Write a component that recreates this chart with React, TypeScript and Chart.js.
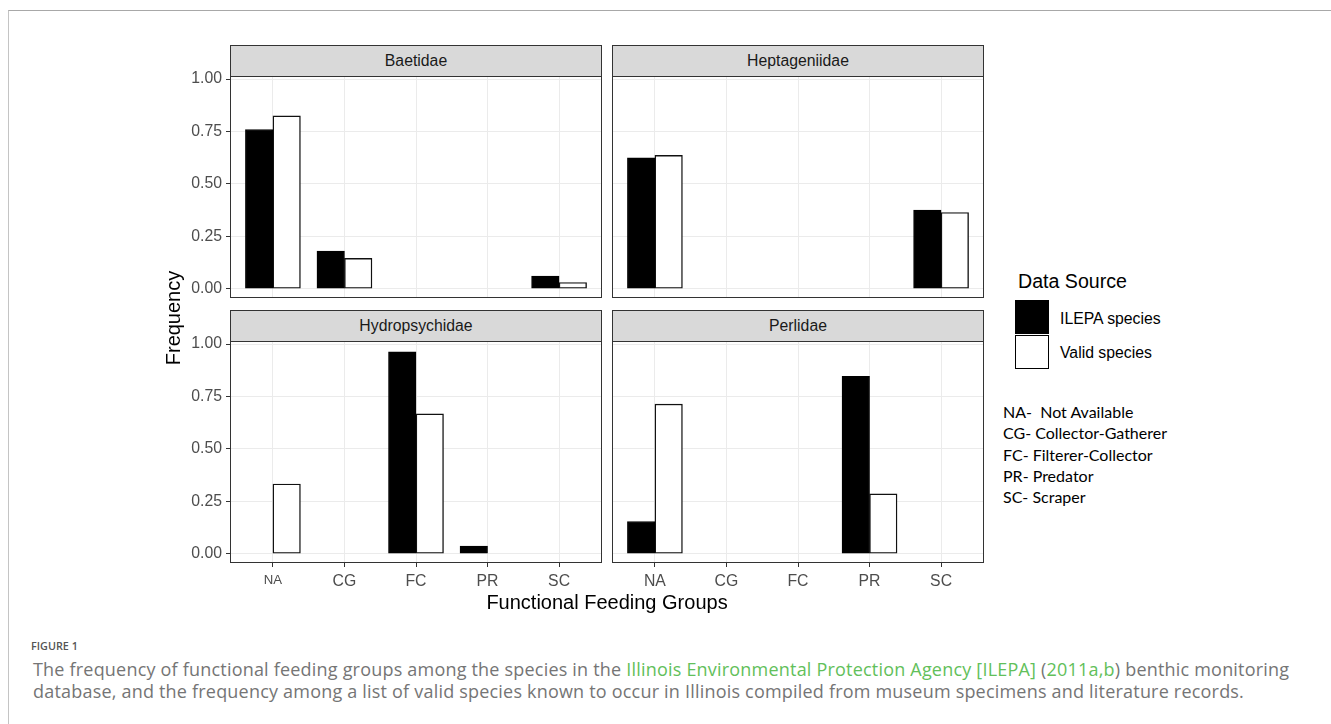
import React, { useEffect, useRef } from 'react';
import { Chart, registerables } from 'chart.js';

Chart.register(...registerables);

// ---------- data ----------
const categories = ['NA', 'CG', 'FC', 'PR', 'SC'];
const categoryPositions = [1, 2, 3, 4, 5];
const yTickValues = [0, 0.25, 0.5, 0.75, 1];
const seriesNames = ['ILEPA species', 'Valid species'];

const baetidaeIlepa = [0.76, 0.18, null, null, 0.06];
const baetidaeValid = [0.825, 0.145, null, null, 0.03];
const heptageniidaeIlepa = [0.625, null, null, null, 0.375];
const heptageniidaeValid = [0.636, null, null, null, 0.364];
const hydropsychidaeIlepa = [null, null, 0.963, 0.037, null];
const hydropsychidaeValid = [0.333, null, 0.667, null, null];
const perlidaeIlepa = [0.154, null, null, 0.846, null];
const perlidaeValid = [0.714, null, null, 0.286, null];

const legendNotes = [
  'NA-  Not Available',
  'CG- Collector-Gatherer',
  'FC- Filterer-Collector',
  'PR- Predator',
  'SC- Scraper',
];

// ---------- layout / style ----------
const FONT = '"Liberation Sans", Arial, Helvetica, sans-serif';
const TICK_SIZE = 15.8;
const COL_LEFT = [230, 612];
const ROW_STRIP_TOP = [45, 310];
const PANEL_W = 372;
const STRIP_H = 31;
const PLOT_H = 222;
const Y_MIN = -0.044;
const Y_MAX = 1.015;

const panelBorder = {
  id: 'panelBorder',
  afterDatasetsDraw(chart: any) {
    const { ctx, chartArea: a } = chart;
    ctx.save();
    ctx.strokeStyle = '#333333';
    ctx.lineWidth = 1;
    ctx.strokeRect(a.left + 0.5, a.top + 0.5, a.right - a.left - 1, a.bottom - a.top - 1);
    ctx.restore();
  },
};

type PanelProps = {
  title: string;
  ilepa: (number | null)[];
  valid: (number | null)[];
  col: number;
  row: number;
};

function Panel({ title, ilepa, valid, col, row }: PanelProps) {
  const ref = useRef<HTMLCanvasElement>(null);
  const left = COL_LEFT[col];
  const stripTop = ROW_STRIP_TOP[row];
  const plotTop = stripTop + STRIP_H;
  const yAxisW = col === 0 ? 70 : 0;
  const xAxisH = row === 1 ? 30 : 0;
  const padTop = 16;
  const padBottom = row === 1 ? 2 : 16;
  const padRight = 2;
  const cw = yAxisW + PANEL_W + padRight;
  const ch = padTop + PLOT_H + xAxisH + padBottom;

  useEffect(() => {
    if (!ref.current) return;
    const chart = new Chart(ref.current, {
      type: 'bar',
      data: {
        datasets: [
          {
            label: seriesNames[0],
            data: categoryPositions.map((x, i) => ({ x, y: ilepa[i] })) as any,
            backgroundColor: '#000000',
            borderColor: '#000000',
            borderWidth: 1,
            borderSkipped: false,
          },
          {
            label: seriesNames[1],
            data: categoryPositions.map((x, i) => ({ x, y: valid[i] })) as any,
            backgroundColor: '#ffffff',
            borderColor: '#111111',
            borderWidth: 1.4,
            borderSkipped: false,
          },
        ],
      },
      options: {
        responsive: false,
        animation: false,
        devicePixelRatio: 1,
        layout: { padding: { top: padTop, bottom: padBottom, left: 0, right: padRight } },
        plugins: { legend: { display: false }, tooltip: { enabled: false } },
        datasets: { bar: { barThickness: 27.5, grouped: true } as any },
        scales: {
          x: {
            type: 'linear',
            offset: false,
            min: 0.4,
            max: 5.6,
            afterBuildTicks: (s: any) => {
              s.ticks = categoryPositions.map((v) => ({ value: v }));
            },
            afterFit: (s: any) => {
              s.height = xAxisH;
            },
            border: { display: false },
            grid: {
              offset: false,
              color: '#ebebeb',
              lineWidth: 1,
              drawTicks: row === 1,
              tickLength: 4,
              tickColor: '#333333',
              tickWidth: 1,
            },
            ticks: {
              display: row === 1,
              padding: 5,
              color: '#4d4d4d',
              autoSkip: false,
              maxRotation: 0,
              font: (ctx: any) => ({
                family: FONT,
                size: col === 0 && ctx.index === 0 ? 13.2 : TICK_SIZE,
              }),
              callback: (v: any) => categories[Math.round(Number(v)) - 1] ?? '',
            },
          },
          y: {
            type: 'linear',
            min: Y_MIN,
            max: Y_MAX,
            afterBuildTicks: (s: any) => {
              s.ticks = yTickValues.map((v) => ({ value: v }));
            },
            afterFit: (s: any) => {
              s.width = yAxisW;
            },
            border: { display: false },
            grid: {
              color: '#ebebeb',
              lineWidth: 1,
              drawTicks: col === 0,
              tickLength: 4,
              tickColor: '#333333',
              tickWidth: 1,
            },
            ticks: {
              display: col === 0,
              padding: 4,
              color: '#4d4d4d',
              font: { family: FONT, size: TICK_SIZE },
              callback: (v: any) => Number(v).toFixed(2),
            },
          },
        },
      } as any,
      plugins: [panelBorder],
    });
    return () => chart.destroy();
  }, []);

  return (
    <>
      <div
        style={{
          position: 'absolute',
          left,
          top: stripTop,
          width: PANEL_W,
          height: STRIP_H + 1,
          boxSizing: 'border-box',
          border: '1px solid #333333',
          background: '#d9d9d9',
          color: '#1a1a1a',
          font: `${TICK_SIZE}px ${FONT}`,
          display: 'flex',
          alignItems: 'center',
          justifyContent: 'center',
        }}
      >
        {title}
      </div>
      <canvas
        ref={ref}
        width={cw}
        height={ch}
        style={{ position: 'absolute', left: left - yAxisW, top: plotTop - padTop, width: cw, height: ch }}
      />
    </>
  );
}

const abs = (s: React.CSSProperties): React.CSSProperties => ({ position: 'absolute', ...s });

export default function App() {
  const green = '#62c05a';
  return (
    <div style={abs({ left: 0, top: 0, width: 1331, height: 724, background: '#ffffff', overflow: 'hidden' })}>
      {/* figure frame */}
      <div
        style={abs({
          left: 8,
          top: 10,
          width: 1400,
          height: 800,
          borderTop: '1px solid #a8a8a8',
          borderLeft: '1px solid #c4c4c4',
        })}
      />

      <Panel title="Baetidae" ilepa={baetidaeIlepa} valid={baetidaeValid} col={0} row={0} />
      <Panel title="Heptageniidae" ilepa={heptageniidaeIlepa} valid={heptageniidaeValid} col={1} row={0} />
      <Panel title="Hydropsychidae" ilepa={hydropsychidaeIlepa} valid={hydropsychidaeValid} col={0} row={1} />
      <Panel title="Perlidae" ilepa={perlidaeIlepa} valid={perlidaeValid} col={1} row={1} />

      {/* axis titles */}
      <div
        style={abs({
          left: 172 - 100,
          top: 318 - 10,
          width: 200,
          height: 20,
          lineHeight: '20px',
          textAlign: 'center',
          font: `20px ${FONT}`,
          color: '#000',
          transform: 'rotate(-90deg)',
        })}
      >
        Frequency
      </div>
      <div
        style={abs({
          left: 607 - 200,
          top: 591,
          width: 400,
          height: 20,
          lineHeight: '20px',
          textAlign: 'center',
          font: `20px ${FONT}`,
          color: '#000',
        })}
      >
        Functional Feeding Groups
      </div>

      {/* legend */}
      <div style={abs({ left: 1018, top: 270, font: `19.6px ${FONT}`, lineHeight: '22px', color: '#000', whiteSpace: 'nowrap' })}>
        Data Source
      </div>
      <div style={abs({ left: 1015, top: 300, width: 34, height: 34, background: '#000' })} />
      <div
        style={abs({
          left: 1015,
          top: 335,
          width: 34,
          height: 34,
          boxSizing: 'border-box',
          border: '1.5px solid #000',
          background: '#fff',
        })}
      />
      <div style={abs({ left: 1060, top: 309, font: `${TICK_SIZE}px ${FONT}`, lineHeight: '20px', whiteSpace: 'nowrap' })}>
        {seriesNames[0]}
      </div>
      <div style={abs({ left: 1060, top: 343, font: `${TICK_SIZE}px ${FONT}`, lineHeight: '20px', whiteSpace: 'nowrap' })}>
        {seriesNames[1]}
      </div>

      {/* notes */}
      {legendNotes.map((t, i) => (
        <div
          key={t}
          style={abs({
            left: 1003,
            top: 402 + i * 21.25,
            font: '16px Lato, "Open Sans", sans-serif',
            lineHeight: '20px',
            color: '#000',
            whiteSpace: 'pre',
          })}
        >
          {t}
        </div>
      ))}

      {/* caption */}
      <div
        style={abs({
          left: 31,
          top: 638,
          font: '600 10.8px "Open Sans", sans-serif',
          lineHeight: '16px',
          color: '#555555',
          whiteSpace: 'nowrap',
        })}
      >
        FIGURE 1
      </div>
      <div
        style={abs({
          left: 33,
          top: 658,
          font: '18px "Open Sans", sans-serif',
          lineHeight: '22px',
          letterSpacing: '0.2px',
          color: '#757575',
          whiteSpace: 'nowrap',
        })}
      >
        <div>
          The frequency of functional feeding groups among the species in the{' '}
          <span style={{ color: green }}>Illinois Environmental Protection Agency [ILEPA]</span> (
          <span style={{ color: green }}>2011a,b</span>) benthic monitoring
        </div>
        <div>
          database, and the frequency among a list of valid species known to occur in Illinois compiled from museum
          specimens and literature records.
        </div>
      </div>
    </div>
  );
}
